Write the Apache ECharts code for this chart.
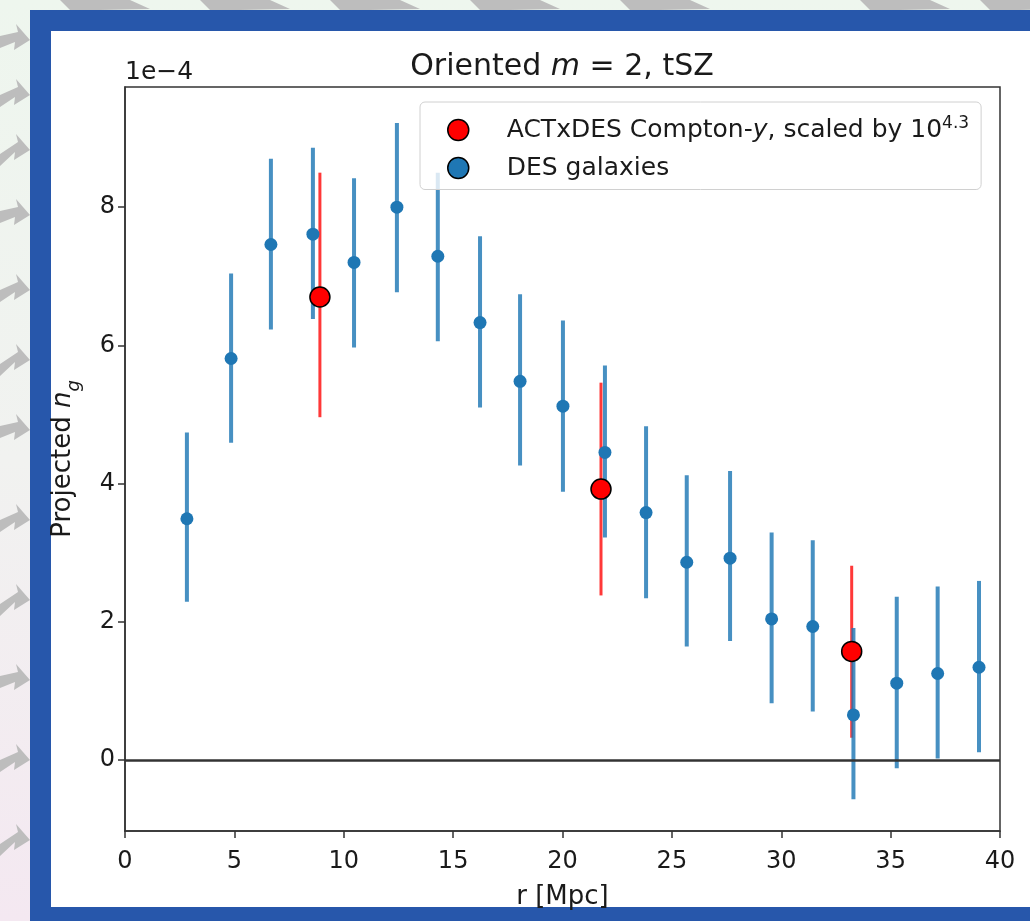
<!DOCTYPE html>
<html><head><meta charset="utf-8">
<script src="https://cdn.jsdelivr.net/npm/echarts@6/dist/echarts.min.js"></script>
<style>
html,body{margin:0;padding:0;width:1030px;height:921px;overflow:hidden;}
body{background:linear-gradient(180deg,#eef6ee 0%,#f1f2f0 50%,#f4e8f1 100%);}
#frame{position:absolute;left:30px;top:10px;width:1000px;height:911px;background:#2757ab;}
#panel{position:absolute;left:51px;top:31px;width:979px;height:876px;background:#fff;}
#chart{position:absolute;left:0;top:0;width:1030px;height:921px;}
</style></head><body>
<div id="frame"></div><div id="panel"></div><div id="chart"></div>
<script>
// DES galaxies (values in units of 1e-4)
const desR    = [2.83,4.85,6.67,8.59,10.47,12.43,14.30,16.23,18.06,20.02,21.94,23.82,25.68,27.66,29.56,31.44,33.30,35.28,37.15,39.04];
const desVal  = [3.49,5.81,7.46,7.61,7.20,8.00,7.29,6.33,5.48,5.12,4.45,3.58,2.86,2.92,2.04,1.93,0.65,1.11,1.25,1.34];
const desLow  = [2.29,4.59,6.23,6.38,5.97,6.77,6.06,5.10,4.26,3.88,3.22,2.34,1.64,1.72,0.82,0.70,-0.57,-0.12,0.02,0.11];
const desHigh = [4.74,7.04,8.70,8.86,8.42,9.22,8.50,7.58,6.74,6.36,5.71,4.83,4.12,4.18,3.29,3.18,1.91,2.36,2.51,2.59];
// ACTxDES Compton-y (scaled)
const actR    = [8.91,21.76,33.22];
const actVal  = [6.70,3.92,1.57];
const actLow  = [4.96,2.38,0.32];
const actHigh = [8.50,5.46,2.81];
// axis ticks
const xTicks = [0,5,10,15,20,25,30,35,40];
const yTicks = [0,2,4,6,8];

const ACT_NAME = 'ACTxDES Compton-y, scaled by 10^4.3';
const DES_NAME = 'DES galaxies';
const FONT = 'DejaVu Sans';
const TXT = '#1a1a1a';

const chart = echarts.init(document.getElementById('chart'), null, {renderer:'canvas'});

function errRender(color, width){
  return function(params, api){
    const x = api.value(0);
    const p1 = api.coord([x, api.value(1)]);
    const p2 = api.coord([x, api.value(2)]);
    return {type:'line', shape:{x1:p1[0], y1:p1[1], x2:p2[0], y2:p2[1]},
            style:{stroke:color, lineWidth:width}};
  };
}

// decorative background arrows (outside the frame)
const arrows = [];
const arrowYs = [40, 95, 150, 215, 290, 360, 430, 520, 600, 680, 760, 840];
arrowYs.forEach((y,i)=>{
  const dx = (i%3)*4;
  arrows.push({type:'polygon', silent:true, z:0,
    shape:{points:[[0,y-4+dx],[18,y-8],[16,y-16],[30,y],[14,y+10],[15,y+2],[0,y+8+dx]]},
    style:{fill:'#bdbdbd'}});
});
[[60,0],[200,0],[330,0],[470,0],[620,0],[860,0],[980,0]].forEach((p)=>{
  arrows.push({type:'polygon', silent:true, z:0,
    shape:{points:[[p[0],0],[p[0]+70,0],[p[0]+90,9],[p[0]+40,10],[p[0]+10,10]]},
    style:{fill:'#bdbdbd'}});
});

const option = {
  animation:false,
  backgroundColor:'transparent',
  textStyle:{fontFamily:FONT},
  title:{
    text:'Oriented {i|m} = 2, tSZ',
    left:562, top:52, textAlign:'center', padding:0,
    textStyle:{fontFamily:FONT, fontSize:30, fontWeight:'normal', color:TXT,
      rich:{i:{fontFamily:FONT, fontSize:30, fontStyle:'italic', color:TXT}}}
  },
  graphic:[
    ...arrows,
    {type:'text', left:125, top:60, z:10,
     style:{text:'1e\u22124', fontFamily:FONT, fontSize:25, fill:TXT}}
  ],
  legend:{
    orient:'vertical', left:420, top:102,
    padding:[13,12,9,27], itemGap:13,
    itemWidth:21, itemHeight:21,
    backgroundColor:'rgba(255,255,255,0.8)', borderColor:'#d0d0d0', borderWidth:1, borderRadius:5,
    data:[
      {name:ACT_NAME, icon:'circle', itemStyle:{color:'#ff0000', borderColor:'#000', borderWidth:1.5}},
      {name:DES_NAME, icon:'circle', itemStyle:{color:'#1f77b4', borderColor:'#000', borderWidth:1.5}}
    ],
    formatter:function(name){
      if(name===ACT_NAME) return '{n|ACTxDES Compton-}{i|y}{n|, scaled by 10}{s|4.3}';
      return '{n|DES galaxies}';
    },
    textStyle:{fontFamily:FONT, fontSize:25, color:TXT, padding:[0,0,0,33],
      rich:{
        n:{fontFamily:FONT, fontSize:25, color:TXT, lineHeight:30},
        i:{fontFamily:FONT, fontSize:25, fontStyle:'italic', color:TXT, lineHeight:30},
        s:{fontFamily:FONT, fontSize:17, color:TXT, verticalAlign:'top', lineHeight:16}
      }}
  },
  grid:{left:125, top:87, width:875, height:744, show:true, borderColor:'#333', borderWidth:1.5, containLabel:false},
  xAxis:{
    type:'value', min:0, max:40, interval:5,
    name:'r [Mpc]', nameLocation:'middle', nameGap:53,
    nameTextStyle:{fontFamily:FONT, fontSize:26, color:TXT},
    axisLine:{show:true, onZero:false, lineStyle:{color:'#333', width:1.5}},
    axisTick:{show:true, inside:false, length:7, lineStyle:{color:'#333', width:1.5}},
    axisLabel:{fontFamily:FONT, fontSize:24, color:TXT, margin:19},
    splitLine:{show:false}
  },
  yAxis:{
    type:'value', min:-1.03, max:9.74,
    name:'{a|Projected }{i|n}{b|g}', nameLocation:'middle', nameGap:49, nameRotate:90,
    nameTextStyle:{fontFamily:FONT, fontSize:26, color:TXT,
      rich:{
        a:{fontFamily:FONT, fontSize:26, color:TXT},
        i:{fontFamily:FONT, fontSize:26, fontStyle:'italic', color:TXT},
        b:{fontFamily:FONT, fontSize:18, fontStyle:'italic', color:TXT, verticalAlign:'bottom', lineHeight:18, padding:[0,0,-7,0]}
      }},
    axisLine:{show:true, onZero:false, lineStyle:{color:'#333', width:1.5}},
    axisTick:{show:true, inside:false, length:7, customValues:yTicks, lineStyle:{color:'#333', width:1.5}},
    axisLabel:{fontFamily:FONT, fontSize:24, color:TXT, margin:10, customValues:yTicks},
    splitLine:{show:false}
  },
  series:[
    {
      name:'ACT err', type:'custom', z:1, silent:true,
      renderItem:errRender('rgba(255,0,0,0.78)', 3),
      encode:{x:0, y:[1,2]},
      data:actR.map((r,i)=>[r, actLow[i], actHigh[i]])
    },
    {
      name:'DES err', type:'custom', z:2, silent:true,
      renderItem:errRender('rgba(31,119,180,0.82)', 4),
      encode:{x:0, y:[1,2]},
      data:desR.map((r,i)=>[r, desLow[i], desHigh[i]]),
      markLine:{silent:true, symbol:['none','none'], label:{show:false},
        lineStyle:{color:'#333', width:2.5, type:'solid'},
        data:[{yAxis:0}]}
    },
    {
      name:DES_NAME, type:'scatter', z:3, symbol:'circle', symbolSize:13,
      itemStyle:{color:'#1f77b4', opacity:1},
      data:desR.map((r,i)=>[r, desVal[i]])
    },
    {
      name:ACT_NAME, type:'scatter', z:4, symbol:'circle', symbolSize:20,
      itemStyle:{color:'#ff0000', borderColor:'#000', borderWidth:1.5, opacity:1},
      data:actR.map((r,i)=>[r, actVal[i]])
    }
  ]
};
chart.setOption(option);
</script>
</body></html>
